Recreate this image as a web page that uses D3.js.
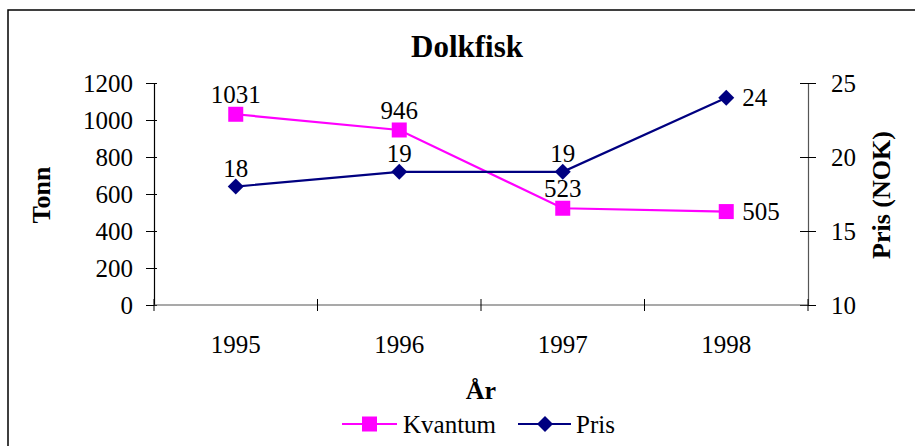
<!DOCTYPE html>
<html>
<head>
<meta charset="utf-8">
<script src="https://cdn.jsdelivr.net/npm/d3@7"></script>
<style>
  html, body { margin: 0; padding: 0; background: #fff; }
  svg { display: block; }
  svg text { font-family: "Times New Roman", "Liberation Serif", serif; fill: #000; }
</style>
</head>
<body>
<svg id="chart" width="915" height="446"></svg>
<script>
const categories = ["1995", "1996", "1997", "1998"];
const kvantum = [1031, 946, 523, 505];
const pris = [18, 19, 19, 24];
const leftTicks = [0, 200, 400, 600, 800, 1000, 1200];
const rightTicks = [10, 15, 20, 25];
const chartTitle = "Dolkfisk";
const leftTitle = "Tonn";
const rightTitle = "Pris (NOK)";
const xTitle = "År";
const seriesNames = ["Kvantum", "Pris"];

const svg = d3.select("#chart");
const plot = { left: 154, right: 808, top: 83, bottom: 305 };
const magenta = "#FF00FF", navy = "#000080";
const fs = 25;

// outer border
svg.append("rect").attr("x", 8).attr("y", 10).attr("width", 920).attr("height", 450)
  .attr("fill", "none").attr("stroke", "#000").attr("stroke-width", 1.5);

const x = d3.scaleBand().domain(categories).range([plot.left, plot.right]).padding(0);
const cx = c => x(c) + x.bandwidth() / 2;
const yL = d3.scaleLinear().domain([0, 1200]).range([plot.bottom, plot.top]);
const yR = d3.scaleLinear().domain([10, 25]).range([plot.bottom, plot.top]);

// title
svg.append("text").attr("x", 467).attr("y", 57).attr("text-anchor", "middle")
  .attr("font-size", 31).attr("font-weight", "bold").text(chartTitle);

// left axis
const gL = svg.append("g").attr("transform", `translate(${plot.left},0)`)
  .call(d3.axisLeft(yL).tickValues(leftTicks).tickFormat(d3.format("d")).tickSize(8).tickPadding(13));
gL.select(".domain").attr("stroke", "#000").attr("stroke-width", 1.2);
gL.selectAll(".tick line").attr("stroke", "#000").attr("x2", 3).attr("x1", -8);
gL.selectAll(".tick text").attr("font-size", fs);

// right axis
const gR = svg.append("g").attr("transform", `translate(${plot.right},0)`)
  .call(d3.axisRight(yR).tickValues(rightTicks).tickFormat(d3.format("d")).tickSize(8).tickPadding(15));
gR.select(".domain").attr("stroke", "#555").attr("stroke-width", 1.2);
gR.selectAll(".tick line").attr("stroke", "#000").attr("x1", -8).attr("x2", 8);
gR.selectAll(".tick text").attr("font-size", fs);

// x axis
const boundaries = categories.map(c => x(c)).concat([plot.right]);
const gX = svg.append("g").attr("transform", `translate(0,${plot.bottom})`);
gX.append("line").attr("x1", plot.left).attr("x2", plot.right).attr("y1", 0).attr("y2", 0)
  .attr("stroke", "#555").attr("stroke-width", 1.2);
gX.selectAll("line.tk").data(boundaries).enter().append("line").attr("class", "tk")
  .attr("x1", d => d).attr("x2", d => d).attr("y1", -6).attr("y2", 6)
  .attr("stroke", "#000").attr("stroke-width", 1);
gX.selectAll("text").data(categories).enter().append("text")
  .attr("x", d => cx(d)).attr("y", 48).attr("text-anchor", "middle")
  .attr("font-size", fs).text(d => d);

// axis titles
svg.append("text").attr("transform", "translate(41,195) rotate(-90)")
  .attr("text-anchor", "middle").attr("dominant-baseline", "central")
  .attr("font-size", 26).attr("font-weight", "bold").text(leftTitle);
svg.append("text").attr("transform", "translate(881,195) rotate(-90)")
  .attr("text-anchor", "middle").attr("dominant-baseline", "central")
  .attr("font-size", 26).attr("font-weight", "bold").text(rightTitle);
svg.append("text").attr("x", 481).attr("y", 399).attr("text-anchor", "middle")
  .attr("font-size", 26).attr("font-weight", "bold").text(xTitle);

// lines
const lineK = d3.line().x((d, i) => cx(categories[i])).y(d => yL(d));
const lineP = d3.line().x((d, i) => cx(categories[i])).y(d => yR(d));
svg.append("path").attr("d", lineK(kvantum)).attr("fill", "none").attr("stroke", magenta).attr("stroke-width", 2.2);
svg.append("path").attr("d", lineP(pris)).attr("fill", "none").attr("stroke", navy).attr("stroke-width", 2.2);

// markers
const sq = 15, dm = 8;
svg.selectAll("rect.k").data(kvantum).enter().append("rect").attr("class", "k")
  .attr("x", (d, i) => cx(categories[i]) - sq / 2).attr("y", d => yL(d) - sq / 2)
  .attr("width", sq).attr("height", sq).attr("fill", magenta);
const diamond = (px, py) => `M${px},${py - dm}L${px + dm},${py}L${px},${py + dm}L${px - dm},${py}Z`;
svg.selectAll("path.p").data(pris).enter().append("path").attr("class", "p")
  .attr("d", (d, i) => diamond(cx(categories[i]), yR(d))).attr("fill", navy);

// data labels
const last = categories.length - 1;
svg.selectAll("text.kl").data(kvantum).enter().append("text").attr("class", "kl")
  .attr("font-size", fs)
  .attr("x", (d, i) => i === last ? cx(categories[i]) + 16 : cx(categories[i]))
  .attr("y", (d, i) => i === last ? yL(d) : yL(d) - 11)
  .attr("text-anchor", (d, i) => i === last ? "start" : "middle")
  .attr("dominant-baseline", (d, i) => i === last ? "central" : "auto")
  .text(d => d);
svg.selectAll("text.pl").data(pris).enter().append("text").attr("class", "pl")
  .attr("font-size", fs)
  .attr("x", (d, i) => i === last ? cx(categories[i]) + 16 : cx(categories[i]))
  .attr("y", (d, i) => i === last ? yR(d) : yR(d) - 10)
  .attr("text-anchor", (d, i) => i === last ? "start" : "middle")
  .attr("dominant-baseline", (d, i) => i === last ? "central" : "auto")
  .text(d => d);

// legend
const ly = 424;
const leg = svg.append("g");
leg.append("line").attr("x1", 342).attr("x2", 397).attr("y1", ly).attr("y2", ly).attr("stroke", magenta).attr("stroke-width", 2.2);
leg.append("rect").attr("x", 369.5 - sq / 2).attr("y", ly - sq / 2).attr("width", sq).attr("height", sq).attr("fill", magenta);
leg.append("text").attr("x", 403).attr("y", ly).attr("dominant-baseline", "central").attr("font-size", fs).text(seriesNames[0]);
leg.append("line").attr("x1", 518).attr("x2", 571).attr("y1", ly).attr("y2", ly).attr("stroke", navy).attr("stroke-width", 2.2);
leg.append("path").attr("d", diamond(545, ly)).attr("fill", navy);
leg.append("text").attr("x", 576).attr("y", ly).attr("dominant-baseline", "central").attr("font-size", fs).text(seriesNames[1]);
</script>
</body>
</html>
